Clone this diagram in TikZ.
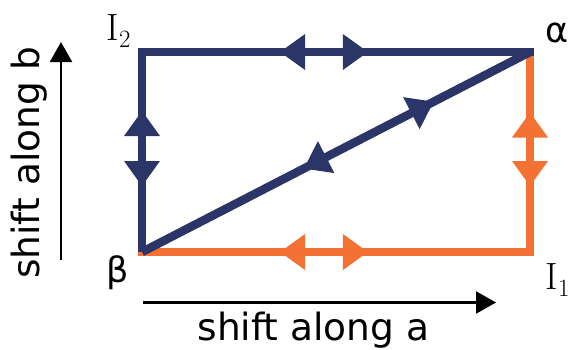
\documentclass[tikz,border=0pt]{standalone}
\usepackage{fontspec}
\newfontfamily\dejavu{DejaVu Sans}
\usetikzlibrary{arrows.meta,decorations.markings}
\definecolor{navy}{RGB}{43,53,104}
\definecolor{orng}{RGB}{242,113,51}
\tikzset{
  edgeline/.style={line width=8.5pt},
  twoarrows/.style n args={3}{postaction={decorate,decoration={markings,
    mark=at position #1 with {\fill[#3] (12.5pt,-18pt) -- (-12.5pt,0pt) -- (12.5pt,18pt) -- cycle;},
    mark=at position #2 with {\fill[#3] (-12.5pt,-18pt) -- (12.5pt,0pt) -- (-12.5pt,18pt) -- cycle;}}}},
  axisline/.style={line width=2.2pt,-{Triangle[length=20pt,width=22pt]}},
  axislabel/.style={font=\dejavu\fontsize{37.5}{40}\selectfont,inner sep=0pt},
  greek/.style={font=\dejavu\fontsize{35}{38}\selectfont,inner sep=0pt},
  ilabel/.style={font=\fontsize{38}{40}\selectfont,inner sep=0pt}
}
\begin{document}
\begin{tikzpicture}[x=1pt,y=-1pt]
\useasboundingbox (0,0) rectangle (572,349);
\coordinate (A) at (530,52);
\coordinate (B) at (142,252);
\coordinate (I1) at (530,252);
\coordinate (I2) at (142,52);
% orange edges
\draw[edgeline,orng,line cap=rect,twoarrows={0.388}{0.550}{orng}] (B) -- (I1);
\draw[edgeline,orng,line cap=rect,twoarrows={0.3925}{0.635}{orng}] (I1) -- (A);
% blue edges
\draw[edgeline,navy,line cap=butt,twoarrows={0.3575}{0.6075}{navy}] (I2) -- (B);
\draw[edgeline,navy,line cap=rect,twoarrows={0.388}{0.550}{navy}] (I2) -- (A);
\draw[edgeline,navy,line cap=butt,twoarrows={0.446}{0.723}{navy}] (B) -- (A);
% labels
\node[greek] (alpha) at (557.5,32.5) {α};
\node[greek] (beta) at (117.5,272.5) {β};
\node[ilabel,anchor=base west] (i1lab) at (545.5,289) {$\mathrm{I}_1$};
\node[ilabel,anchor=base west] (i2lab) at (106.5,40) {$\mathrm{I}_2$};
% axes
\coordinate (ya0) at (61,260);
\coordinate (ya1) at (61,42);
\draw[axisline] (ya0) -- (ya1);
\coordinate (xa0) at (143,302.5);
\coordinate (xa1) at (496,302.5);
\draw[axisline] (xa0) -- (xa1);
\node[axislabel,anchor=base] (alab) at (313.5,340.5) {shift along a};
\node[axislabel,anchor=base,rotate=90] (blab) at (39.5,162.5) {shift along b};
\end{tikzpicture}
\end{document}
